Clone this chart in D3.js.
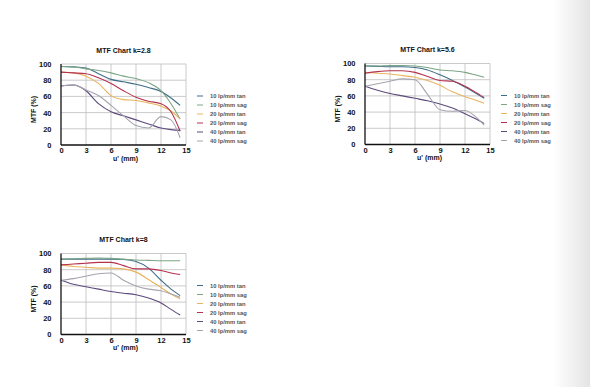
<!DOCTYPE html>
<html>
<head>
<meta charset="utf-8">
<script src="https://cdn.jsdelivr.net/npm/d3@7"></script>
<style>
  body { margin: 0; background: #fff; }
  svg { display: block; font-family: "Liberation Sans Narrow", "Arial Narrow", "Liberation Sans", sans-serif; }
</style>
</head>
<body>
<div class="container"></div>
<script>
// field position u' (mm) where each curve is sampled
const uSteps = [0, 1.5, 3, 4.5, 6, 7.5, 9, 10.5, 12, 13.2, 14.3];
const xTicks = [0, 3, 6, 9, 12, 15];
const yTicks = [0, 20, 40, 60, 80, 100];
const seriesNames = ['10 lp/mm tan', '10 lp/mm sag', '20 lp/mm tan', '20 lp/mm sag', '40 lp/mm tan', '40 lp/mm sag'];
const chartTitles = ['MTF Chart k=2.8', 'MTF Chart k=5.6', 'MTF Chart k=8'];

// k = 2.8
const k28Tan10 = [97, 96.5, 95, 88, 81, 78, 75, 71, 66, 58, 49];
const k28Sag10 = [97, 96.5, 94, 92, 89, 85, 82, 77, 67, 51, 32];
const k28Tan20 = [90, 89, 85, 76, 61, 56, 55, 52, 48, 42, 32];
const k28Sag20 = [90, 89, 88, 83, 76, 67, 59, 54, 51, 41, 17];
const k28Tan40 = [73, 74, 67, 51, 41, 36, 31, 26, 21, 19, 18];
const k28Sag40 = [73, 74, 68, 61, 49, 36, 24, 21, 35, 31, 9];

// k = 5.6
const k56Tan10 = [97, 96.5, 96, 96, 95, 92, 86, 79, 71, 64, 57];
const k56Sag10 = [97, 97, 97.5, 97.5, 97, 95, 92, 91, 89, 86, 83];
const k56Tan20 = [89, 88, 87, 85, 83, 79, 73, 65, 59, 55, 51];
const k56Sag20 = [88, 90, 91, 91, 89, 84, 79, 78, 72, 65, 58];
const k56Tan40 = [72, 67, 63, 60, 57, 54, 50, 45, 38, 32, 26];
const k56Sag40 = [72, 75, 78, 81, 80, 62, 43, 41, 42, 35, 24];

// k = 8
const k8Tan10 = [93, 93, 93, 93, 93, 92.5, 90, 82, 67, 56, 48];
const k8Sag10 = [93, 93.5, 94, 94.5, 94, 93, 92, 91.5, 91, 91, 91];
const k8Tan20 = [86, 84, 83, 82, 82, 81, 77, 68, 58, 50, 44];
const k8Sag20 = [86, 87, 88, 89, 89, 85, 81, 81, 79, 76, 74];
const k8Tan40 = [67, 62, 59, 56, 53, 51, 49, 45, 39, 31, 24];
const k8Sag40 = [67, 69, 72, 75, 76, 67, 60, 56, 54, 50, 46];

const lineColors = ['#3f6e88', '#7ba585', '#e9b45f', '#b5324f', '#5d4b7d', '#a6a4ae'];

const width = 590;
const height = 387;
const plotW = 125;
const plotH = 81;

const svg = d3.select('.container')
  .append('svg')
  .attr('width', width)
  .attr('height', height);

// soft page shadow on the right edge
const grad = svg.append('defs').append('linearGradient')
  .attr('id', 'edge').attr('x1', 0).attr('x2', 1);
grad.append('stop').attr('offset', 0).attr('stop-color', '#fff');
grad.append('stop').attr('offset', 0.6).attr('stop-color', '#efefef');
grad.append('stop').attr('offset', 1).attr('stop-color', '#e4e4e4');
svg.append('rect')
  .attr('x', 553).attr('y', 0)
  .attr('width', 37).attr('height', height)
  .attr('fill', 'url(#edge)');

const panels = [
  { title: chartTitles[0], series: [k28Tan10, k28Sag10, k28Tan20, k28Sag20, k28Tan40, k28Sag40], left: 61, top: 64 },
  { title: chartTitles[1], series: [k56Tan10, k56Sag10, k56Tan20, k56Sag20, k56Tan40, k56Sag40], left: 365, top: 63.5 },
  { title: chartTitles[2], series: [k8Tan10, k8Sag10, k8Tan20, k8Sag20, k8Tan40, k8Sag40], left: 61, top: 253.5 }
];

const x = d3.scaleLinear().domain([0, 15]).range([0, plotW]);
const y = d3.scaleLinear().domain([0, 100]).range([plotH, 0]);

const line = d3.line()
  .x((d, i) => x(uSteps[i]))
  .y(d => y(d))
  .curve(d3.curveMonotoneX);

panels.forEach(p => {
  const g = svg.append('g').attr('transform', `translate(${p.left},${p.top})`);

  // grid
  g.append('g').selectAll('line')
    .data(yTicks.slice(1))
    .join('line')
    .attr('x1', 0).attr('x2', plotW)
    .attr('y1', d => y(d)).attr('y2', d => y(d))
    .attr('stroke', '#bcbcbc').attr('stroke-width', 0.8);
  g.append('g').selectAll('line')
    .data(xTicks.slice(1))
    .join('line')
    .attr('x1', d => x(d)).attr('x2', d => x(d))
    .attr('y1', 0).attr('y2', plotH)
    .attr('stroke', '#bcbcbc').attr('stroke-width', 0.8);

  // curves
  g.append('g').selectAll('path')
    .data(p.series)
    .join('path')
    .attr('d', line)
    .attr('fill', 'none')
    .attr('stroke', (d, i) => lineColors[i])
    .attr('stroke-width', 1.1);

  // axes
  const xAxis = g.append('g')
    .attr('transform', `translate(0,${plotH})`)
    .call(d3.axisBottom(x).tickValues(xTicks).tickSize(0).tickPadding(3));
  const yAxis = g.append('g')
    .call(d3.axisLeft(y).tickValues(yTicks).tickSize(0).tickPadding(9.5));
  [xAxis, yAxis].forEach(a => {
    a.select('.domain').remove();
    a.selectAll('text')
      .style('font-family', null)
      .attr('font-size', 7.5)
      .attr('font-weight', 'bold')
      .attr('fill', '#111');
  });
  g.append('line')
    .attr('x1', 0).attr('x2', 0).attr('y1', 0).attr('y2', plotH)
    .attr('stroke', '#111').attr('stroke-width', 1.3);
  g.append('line')
    .attr('x1', 0).attr('x2', plotW).attr('y1', plotH).attr('y2', plotH)
    .attr('stroke', '#111').attr('stroke-width', 1.3);

  // titles
  g.append('text')
    .attr('x', plotW / 2).attr('y', -11.5)
    .attr('text-anchor', 'middle')
    .attr('font-size', 7).attr('font-weight', 'bold').attr('fill', '#111')
    .text(p.title);
  g.append('text')
    .attr('x', plotW / 2 + 2).attr('y', plotH + 15.5)
    .attr('text-anchor', 'middle')
    .attr('font-size', 7).attr('font-weight', 'bold').attr('fill', '#111')
    .text("u' (mm)");
  g.append('text')
    .attr('transform', `translate(-25,${plotH / 2 + 5}) rotate(-90)`)
    .attr('text-anchor', 'middle')
    .attr('font-size', 7).attr('font-weight', 'bold').attr('fill', '#111')
    .text('MTF (%)');

  // legend
  const legend = g.append('g').attr('transform', `translate(136,32)`);
  const rows = legend.selectAll('g')
    .data(seriesNames)
    .join('g')
    .attr('transform', (d, i) => `translate(0,${i * 9})`);
  rows.append('line')
    .attr('x1', 0).attr('x2', 6)
    .attr('stroke', (d, i) => lineColors[i]).attr('stroke-width', 1);
  rows.append('text')
    .attr('x', 13).attr('y', 2)
    .attr('font-family', '"Liberation Sans", sans-serif')
    .attr('font-size', 5.8).attr('font-weight', 'bold').attr('fill', '#555')
    .text(d => d);
});
</script>
</body>
</html>
